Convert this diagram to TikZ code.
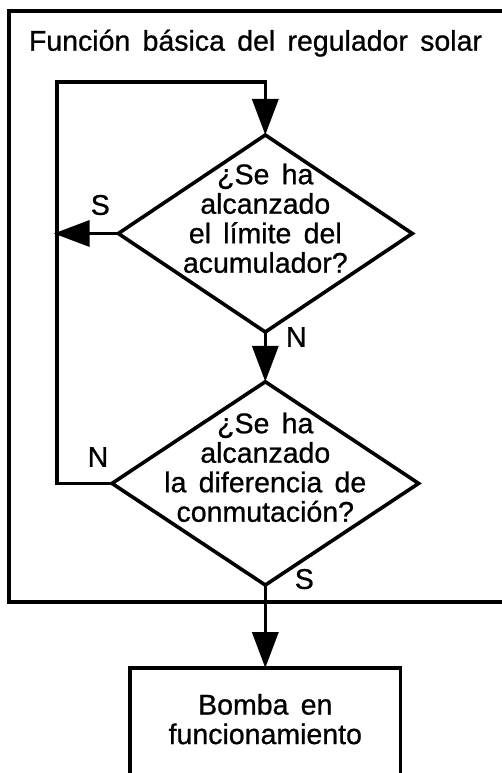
\documentclass[tikz,border=0pt]{standalone}
\usepackage{fontspec}
\setmainfont{Liberation Sans}[WordSpace=1.55, FakeBold=0.8]
\usetikzlibrary{arrows.meta, positioning, shapes.geometric}

\begin{document}
\begin{tikzpicture}[x=1pt, y=-1pt, line width=3.6pt,
    txt/.style={font=\fontsize{28.5}{29.5}\selectfont, align=center, inner sep=0pt},
    decision/.style={draw, diamond, inner sep=0pt, outer sep=0pt},
    pumpbox/.style={draw, rectangle, inner sep=0pt, outer sep=0pt},
    flow/.style={-{Triangle[length=36pt, width=26pt]}}]
  \useasboundingbox (0,0) rectangle (501,773);
  \draw (9.2,11.3) rectangle (520,602);
  \node[txt, anchor=base] (title) at (255.5,50.7) {Función básica del regulador solar};
  \node[decision, minimum width=294pt, minimum height=197pt] (q1) at (265.3,233.5) {};
  \node[txt] (q1txt) at (265.3,218.3) {¿Se ha\\alcanzado\\el límite del\\acumulador?};
  \node[decision, minimum width=306.6pt, minimum height=203.3pt] (q2) at (265.3,483.4) {};
  \node[txt] (q2txt) at (265.3,467.3) {¿Se ha\\alcanzado\\la diferencia de\\conmutación?};
  \node[pumpbox, minimum width=270.6pt, minimum height=120pt, anchor=north] (pump) at (265.3,668) {};
  \node[txt] (pumptxt) at (265.3,719.1) {Bomba en\\funcionamiento};
  \coordinate (loop) at (57.2,82.2);
  \draw[flow] (q1.south) -- (q2.north);
  \draw[flow] (q2.south) -- (pump.north);
  \draw[flow, shorten >=-3.5pt] (q1.west) -- (q1.west -| loop);
  \draw[flow] (q2.west) -| (loop) -| (q1.north);
  \node[txt] (s1) at ([shift={(-18,-28.5)}]q1.west) {S};
  \node[txt] (n1) at ([shift={(31,5)}]q1.south) {N};
  \node[txt] (n2) at ([shift={(-14,-26.4)}]q2.west) {N};
  \node[txt] (s2) at ([shift={(39,-6)}]q2.south) {S};
\end{tikzpicture}
\end{document}
